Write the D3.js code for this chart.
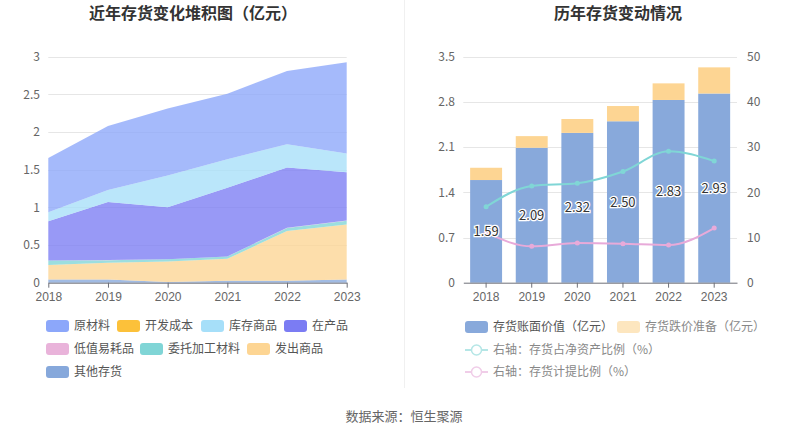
<!DOCTYPE html>
<html><head><meta charset="utf-8">
<script src="https://cdn.jsdelivr.net/npm/d3@7/dist/d3.min.js"></script>
<style>
body{margin:0;background:#fff;}
svg{font-family:"Noto Sans CJK SC","Noto Sans",sans-serif;}
</style></head>
<body><svg id="c" width="807" height="436"></svg>
<script>
// ---------- data ----------
const years = ["2018","2019","2020","2021","2022","2023"];
// left stacked area (亿元)
const 原材料 = [0.72, 0.85, 0.89, 0.87, 0.97, 1.21];
const 开发成本 = [0, 0, 0, 0, 0, 0];
const 库存商品 = [0.12, 0.16, 0.42, 0.38, 0.31, 0.25];
const 在产品 = [0.52, 0.77, 0.69, 0.91, 0.80, 0.64];
const 低值易耗品 = [0.002, 0.002, 0.002, 0.002, 0.002, 0.002];
const 委托加工材料 = [0.06, 0.035, 0.03, 0.03, 0.04, 0.05];
const 发出商品 = [0.19, 0.22, 0.27, 0.29, 0.66, 0.73];
const 其他存货 = [0.044, 0.044, 0.01, 0.027, 0.027, 0.044];
const leftTicks = [0, 0.5, 1, 1.5, 2, 2.5, 3];
// right chart
const bookValue = [1.59, 2.09, 2.32, 2.50, 2.83, 2.93];
const impairment = [0.19, 0.18, 0.215, 0.236, 0.257, 0.405];
const netAssetRatio = [16.8, 21.4, 22.0, 24.6, 29.1, 26.9];
const provisionRatio = [11.06, 8.04, 8.78, 8.63, 8.33, 12.09];
const rightTicksL = [0, 0.7, 1.4, 2.1, 2.8, 3.5];
const rightTicksR = [0, 10, 20, 30, 40, 50];

const seriesDefs = [
  {name:"原材料", data:原材料, color:"#8ca7fa"},
  {name:"开发成本", data:开发成本, color:"#fcc13a"},
  {name:"库存商品", data:库存商品, color:"#a6dff9"},
  {name:"在产品", data:在产品, color:"#7b7cf3"},
  {name:"低值易耗品", data:低值易耗品, color:"#e9b3da"},
  {name:"委托加工材料", data:委托加工材料, color:"#80d5d6"},
  {name:"发出商品", data:发出商品, color:"#fdd593"},
  {name:"其他存货", data:其他存货, color:"#86a8db"}
];

const svg = d3.select("#c");
const txt = "#666";

// titles
svg.append("text").attr("x",193).attr("y",19).attr("text-anchor","middle")
  .attr("font-size",16).attr("font-weight","bold").attr("fill","#333").text("近年存货变化堆积图（亿元）");
svg.append("text").attr("x",618).attr("y",19).attr("text-anchor","middle")
  .attr("font-size",16).attr("font-weight","bold").attr("fill","#333").text("历年存货变动情况");
svg.append("line").attr("x1",404.5).attr("x2",404.5).attr("y1",0).attr("y2",388).attr("stroke","#f0f0f0");
svg.append("text").attr("x",404).attr("y",421).attr("text-anchor","middle")
  .attr("font-size",13).attr("fill","#666").text("数据来源：恒生聚源");

// ---------- left chart ----------
const plotTop = 56.7, plotBottom = 282.7;
const xL = d3.scalePoint().domain(years).range([48.3, 346.7]);
const yL = d3.scaleLinear().domain([0,3]).range([plotBottom, plotTop]);
const gL = svg.append("g");
gL.selectAll(".grid").data(leftTicks.slice(1)).join("line")
  .attr("x1",48.3).attr("x2",346.7).attr("y1",d=>Math.round(yL(d))+0.5).attr("y2",d=>Math.round(yL(d))+0.5)
  .attr("stroke","#e6e6e6");
const rows = years.map((y,i)=>{const o={year:y}; seriesDefs.forEach(s=>o[s.name]=s.data[i]); return o;});
const keys = seriesDefs.map(s=>s.name).reverse();
const stacked = d3.stack().keys(keys)(rows);
const area = d3.area().x(d=>xL(d.data.year)).y0(d=>yL(d[0])).y1(d=>yL(d[1]));
const colorOf = Object.fromEntries(seriesDefs.map(s=>[s.name,s.color]));
gL.selectAll(".area").data(stacked).join("path")
  .attr("d",area).attr("fill",d=>colorOf[d.key]).attr("fill-opacity",0.78);
const axL = gL.append("g").attr("transform",`translate(0,${plotBottom})`)
  .call(d3.axisBottom(xL).tickSize(5).tickSizeOuter(0));
axL.select(".domain").attr("stroke","#6e7079");
axL.selectAll(".tick line").attr("stroke","#6e7079");
axL.selectAll("text").attr("fill",txt).attr("font-size",12).attr("dy","0.9em").attr("font-family","inherit");
gL.selectAll(".yl").data(leftTicks).join("text")
  .attr("x",40).attr("y",d=>yL(d)).attr("dy","0.35em").attr("text-anchor","end")
  .attr("font-size",12).attr("fill",txt).text(d=>d);

// left legend
const legL = [
  {n:"原材料", x:46, y:326},{n:"开发成本", x:117, y:326},{n:"库存商品", x:201, y:326},{n:"在产品", x:284, y:326},
  {n:"低值易耗品", x:46, y:349},{n:"委托加工材料", x:140, y:349},{n:"发出商品", x:247, y:349},
  {n:"其他存货", x:46, y:372}
];
legL.forEach(l=>{
  svg.append("rect").attr("x",l.x).attr("y",l.y-6).attr("width",23).attr("height",12).attr("rx",3)
    .attr("fill",colorOf[l.n]);
  svg.append("text").attr("x",l.x+28).attr("y",l.y).attr("dy","0.35em").attr("font-size",12)
    .attr("fill","#555").text(l.n);
});

// ---------- right chart ----------
const xR = d3.scaleBand().domain(years).range([463.3, 737]).paddingInner(0.3).paddingOuter(0.15);
const yR = d3.scaleLinear().domain([0,3.5]).range([plotBottom, plotTop]);
const yR2 = d3.scaleLinear().domain([0,50]).range([plotBottom, plotTop]);
const gR = svg.append("g");
gR.selectAll(".grid").data(rightTicksL.slice(1)).join("line")
  .attr("x1",463.3).attr("x2",737).attr("y1",d=>Math.round(yR(d))+0.5).attr("y2",d=>Math.round(yR(d))+0.5)
  .attr("stroke","#e6e6e6");
gR.selectAll(".b1").data(bookValue).join("rect")
  .attr("x",(d,i)=>xR(years[i])).attr("width",xR.bandwidth())
  .attr("y",d=>yR(d)).attr("height",d=>plotBottom-yR(d)).attr("fill","#88a9db");
gR.selectAll(".b2").data(impairment).join("rect")
  .attr("x",(d,i)=>xR(years[i])).attr("width",xR.bandwidth())
  .attr("y",(d,i)=>yR(bookValue[i]+d)).attr("height",(d,i)=>yR(bookValue[i])-yR(bookValue[i]+d)).attr("fill","#fdd593");
const cx = y=>xR(y)+xR.bandwidth()/2;
const line = d3.line().x((d,i)=>cx(years[i])).y(d=>yR2(d)).curve(d3.curveMonotoneX);
[[netAssetRatio,"#80d6d6"],[provisionRatio,"#e8aad9"]].forEach(([arr,c])=>{
  gR.append("path").attr("d",line(arr)).attr("fill","none").attr("stroke",c).attr("stroke-width",2);
  gR.selectAll(null).data(arr).join("circle").attr("cx",(d,i)=>cx(years[i])).attr("cy",d=>yR2(d))
    .attr("r",2.5).attr("fill",c);
});
gR.selectAll(".lab").data(bookValue).join("text")
  .attr("x",(d,i)=>cx(years[i])).attr("y",d=>yR(d/2)).attr("dy","0.35em").attr("text-anchor","middle")
  .attr("font-size",13).attr("fill","#333").attr("stroke","#fff").attr("stroke-width",2.5)
  .attr("paint-order","stroke").text(d=>d.toFixed(2));
const axR = gR.append("g").attr("transform",`translate(0,${plotBottom})`)
  .call(d3.axisBottom(xR).tickSize(5).tickSizeOuter(0));
axR.select(".domain").attr("stroke","#6e7079");
axR.selectAll(".tick line").attr("stroke","#6e7079");
axR.selectAll("text").attr("fill",txt).attr("font-size",12).attr("dy","0.9em").attr("font-family","inherit");
gR.selectAll(".yl").data(rightTicksL).join("text")
  .attr("x",455).attr("y",d=>yR(d)).attr("dy","0.35em").attr("text-anchor","end")
  .attr("font-size",12).attr("fill",txt).text(d=>d);
gR.selectAll(".yr").data(rightTicksR).join("text")
  .attr("x",747).attr("y",d=>yR2(d)).attr("dy","0.35em").attr("text-anchor","start")
  .attr("font-size",12).attr("fill",txt).text(d=>d);

// right legend
svg.append("rect").attr("x",465).attr("y",321).attr("width",23).attr("height",12).attr("rx",3).attr("fill","#88a9db");
svg.append("text").attr("x",493).attr("y",327).attr("dy","0.35em").attr("font-size",12).attr("fill","#555").text("存货账面价值（亿元）");
svg.append("rect").attr("x",617).attr("y",321).attr("width",23).attr("height",12).attr("rx",3).attr("fill","#fde6bf");
svg.append("text").attr("x",645).attr("y",327).attr("dy","0.35em").attr("font-size",12).attr("fill","#888").text("存货跌价准备（亿元）");
[["右轴：存货占净资产比例（%）","#b5e6e6",350],["右轴：存货计提比例（%）","#f0cde8",372]].forEach(([t,c,y])=>{
  svg.append("line").attr("x1",465).attr("x2",488).attr("y1",y).attr("y2",y).attr("stroke",c).attr("stroke-width",2);
  svg.append("circle").attr("cx",476.5).attr("cy",y).attr("r",5).attr("fill","#fff").attr("stroke",c).attr("stroke-width",1.5);
  svg.append("text").attr("x",493).attr("y",y).attr("dy","0.35em").attr("font-size",12).attr("fill","#888").text(t);
});
</script></body></html>
